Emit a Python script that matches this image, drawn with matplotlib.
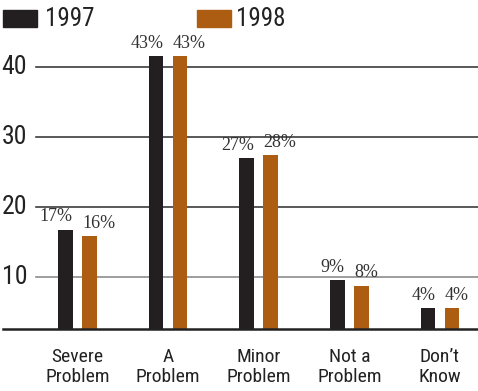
import matplotlib
matplotlib.use("Agg")
import matplotlib.pyplot as plt
import matplotlib.transforms as mtransforms
from matplotlib import font_manager as fm
import numpy as np

# data (bar heights) and the printed labels
categories = ["Severe\nProblem", "A\nProblem", "Minor\nProblem", "Not a\nProblem", "Don\u2019t\nKnow"]
vals_1997 = [16.7, 41.5, 26.9, 9.5, 5.5]
vals_1998 = [15.8, 41.5, 27.4, 8.7, 5.5]
labels_1997 = ["17%", "43%", "27%", "9%", "4%"]
labels_1998 = ["16%", "43%", "28%", "8%", "4%"]
series = ["1997", "1998"]
yticks = [10, 20, 30, 40]

c97 = "#231f20"
c98 = "#ad5d12"

# pick a condensed sans if one is installed
names = {f.name for f in fm.fontManager.ttflist}
cond = [f for f in fm.fontManager.ttflist if f.stretch in ("condensed", "semi-condensed")
        and "Sans" in f.name]
narrow_kw = {"family": ["Liberation Sans", "DejaVu Sans"]}
for cand in ["Liberation Sans Narrow", "Roboto Condensed", "Open Sans Condensed"]:
    if cand in names:
        narrow_kw = {"family": [cand, "DejaVu Sans"]}
        break
else:
    if cond:
        narrow_kw = {"family": [cond[0].name], "stretch": cond[0].stretch}
serif = ["Liberation Serif", "DejaVu Serif"]

W, H = 478, 391
fig = plt.figure(figsize=(W / 100, H / 100), dpi=100)
# axes spans from x=3px to right edge, baseline at y=329px
ax = fig.add_axes([3 / W, (H - 329) / H, (W - 3) / W, 289 / H])
ax.set_xlim(-0.822, 4.42)
ax.set_ylim(2.5, 43.8)
for s in ["top", "right", "left"]:
    ax.spines[s].set_visible(False)
ax.spines["bottom"].set_linewidth(1.8)
ax.spines["bottom"].set_color("#222222")
ax.set_xticks([])
ax.set_yticks([])

# gridlines (start a bit right of the tick labels)
xmin_frac = (36 - 3) / (W - 3)
for t in yticks:
    col = "#8c8c8c" if t == 10 else "#3c3c3c"
    ax.axhline(t, xmin=xmin_frac, xmax=1, color=col, lw=1.2, zorder=1)
    ax.text(-0.557, t, str(t), ha="right", va="center", fontsize=18.5,
            color="#222222", **narrow_kw)

x = np.arange(len(categories))
bw = 0.16
off = 0.1325
b1 = ax.bar(x - off, vals_1997, bw, color=c97, zorder=2)
b2 = ax.bar(x + off, vals_1998, bw, color=c98, zorder=2)

# 1997 labels end at the bar's right edge, 1998 labels start at the bar's left edge
for b, lab in zip(b1, labels_1997):
    ax.annotate(lab, (b.get_x() + b.get_width(), b.get_height()),
                xytext=(0, 3), textcoords="offset points",
                ha="right", va="bottom", fontsize=13,
                family=serif, color="#333333")
for b, lab in zip(b2, labels_1998):
    ax.annotate(lab, (b.get_x(), b.get_height()),
                xytext=(0, 3), textcoords="offset points",
                ha="left", va="bottom", fontsize=13,
                family=serif, color="#333333")

# category labels under the axis
trans = mtransforms.blended_transform_factory(ax.transData, fig.transFigure)
for xi, cat in zip(x, categories):
    ax.text(xi, (H - 367) / H, cat, transform=trans, ha="center", va="center",
            fontsize=14, color="#222222", linespacing=1.2, **narrow_kw)

# legend drawn as patches + text at the top
for (lx, tx, col, name) in [(3, 45, c97, series[0]), (197, 236, c98, series[1])]:
    fig.patches.append(plt.Rectangle((lx / W, (H - 27) / H), 34 / W, 17 / H,
                                     transform=fig.transFigure, color=col))
    fig.text(tx / W, (H - 19) / H, name, ha="left", va="center",
             fontsize=18, color="#222222", **narrow_kw)

fig.savefig("out.png", dpi=100)
